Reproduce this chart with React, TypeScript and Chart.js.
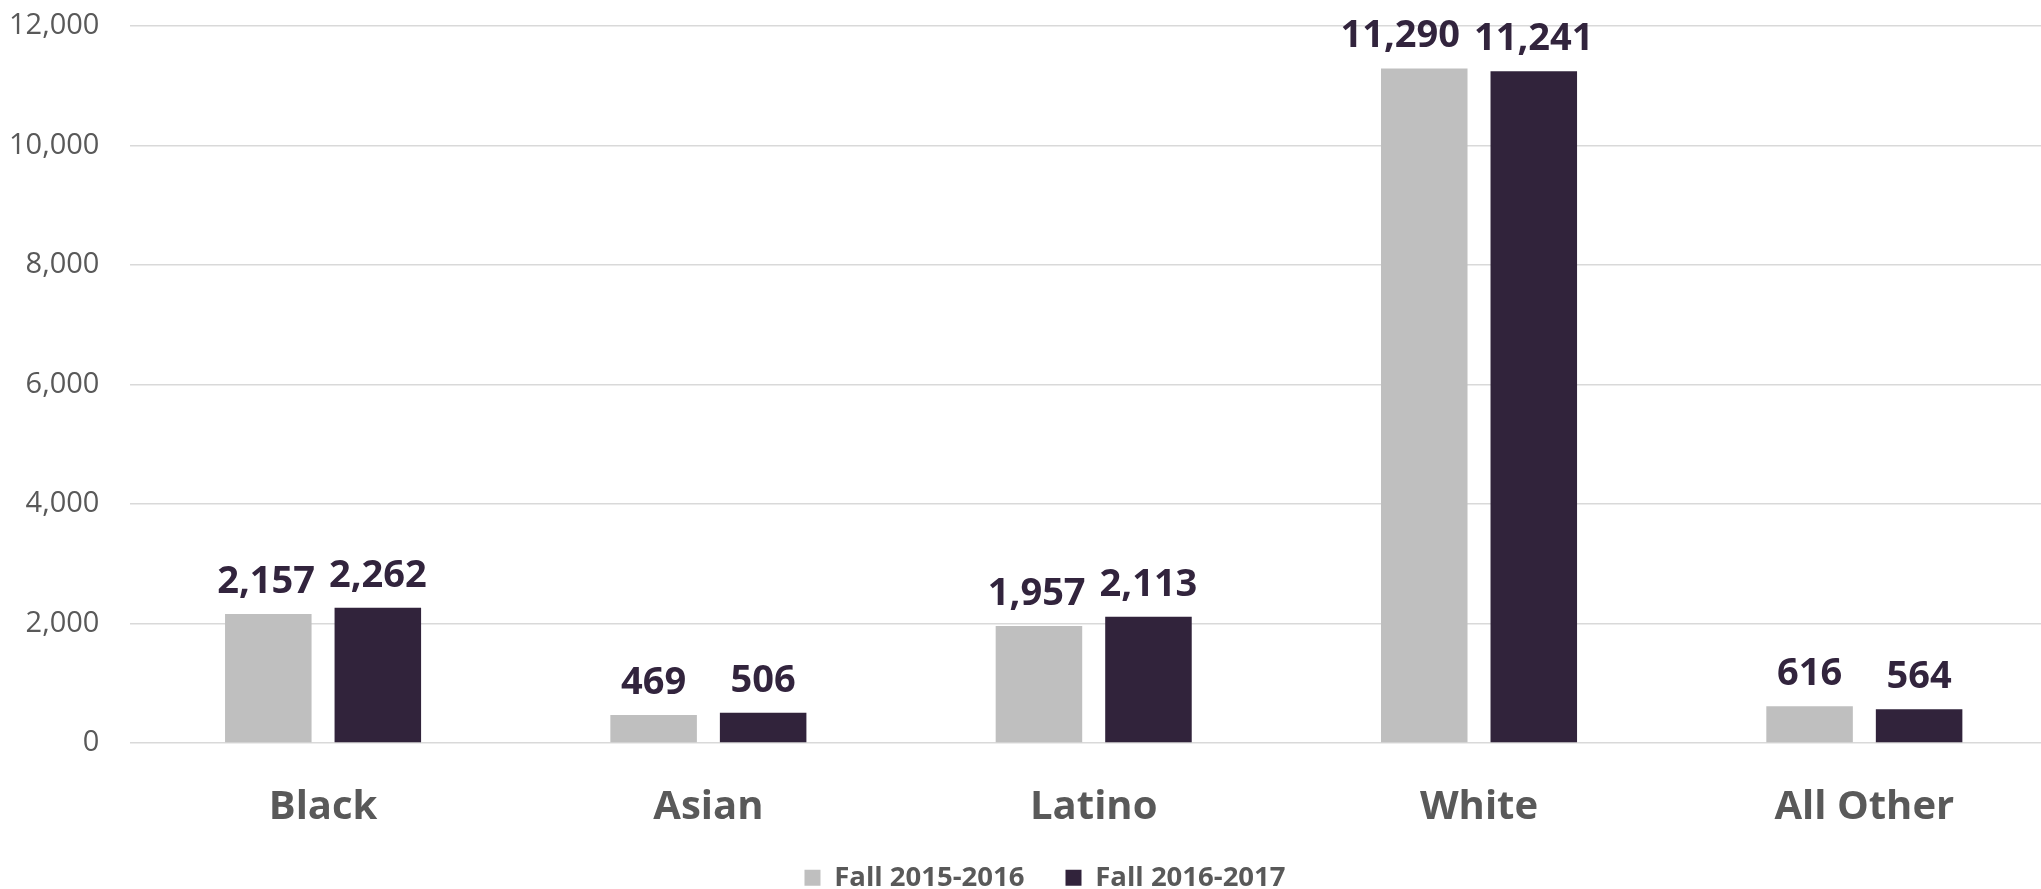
import React, { useEffect, useRef } from "react";
import { Chart, registerables } from "chart.js";

Chart.register(...registerables);

const categories = ["Black", "Asian", "Latino", "White", "All Other"];
const fall2015 = [2157, 469, 1957, 11290, 616];
const fall2016 = [2262, 506, 2113, 11241, 564];
const seriesLabels = ["Fall 2015-2016", "Fall 2016-2017"];
const yMax = 12000;
const yStep = 2000;

const FONT = "'Open Sans', sans-serif";
const GRAY = "#bfbfbf";
const DARK = "#31233b";
const TEXT = "#595959";

const CANVAS_W = 2057;
const CANVAS_H = 889;

const valueLabels = {
  id: "valueLabels",
  afterDatasetsDraw(chart: any) {
    const ctx = chart.ctx;
    ctx.save();
    ctx.font = `bold 38px ${FONT}`;
    ctx.fillStyle = "#32243d";
    ctx.textAlign = "center";
    ctx.textBaseline = "alphabetic";
    const metas = chart.data.datasets.map((_: any, di: number) => chart.getDatasetMeta(di));
    const n = chart.data.labels.length;
    for (let i = 0; i < n; i++) {
      const items = metas.map((meta: any, di: number) => {
        const bar = meta.data[i];
        const text = (chart.data.datasets[di].data[i] as number).toLocaleString("en-US");
        return { text, x: bar.x, y: bar.y - 21, w: ctx.measureText(text).width };
      });
      // avoid overlap: push the first label left if needed
      if (items.length === 2) {
        const a = items[0];
        const b = items[1];
        const overlap = a.x + a.w / 2 + 14 - (b.x - b.w / 2);
        if (overlap > 0) a.x -= overlap;
      }
      items.forEach((it: any) => ctx.fillText(it.text, it.x, it.y));
    }
    ctx.restore();
  },
};

const legendPlacer = {
  id: "legendPlacer",
  afterLayout(chart: any) {
    const lg = chart.legend;
    if (!lg) return;
    lg.left = 0;
    lg.right = 2090;
    lg.top = 823;
    lg.bottom = 900;
  },
};

export default function App() {
  const ref = useRef<HTMLCanvasElement>(null);
  useEffect(() => {
    document.body.style.margin = "0";
    const chart = new Chart(ref.current!, {
      type: "bar",
      data: {
        labels: categories,
        datasets: [
          {
            label: seriesLabels[0],
            data: fall2015,
            backgroundColor: GRAY,
            borderWidth: 0,
            categoryPercentage: 0.5685,
            barPercentage: 0.79,
          },
          {
            label: seriesLabels[1],
            data: fall2016,
            backgroundColor: DARK,
            borderWidth: 0,
            categoryPercentage: 0.5685,
            barPercentage: 0.79,
          },
        ],
      },
      options: {
        responsive: false,
        animation: false,
        devicePixelRatio: 1,
        layout: { padding: { top: 26, right: 0, left: 0, bottom: 0 } },
        plugins: {
          tooltip: { enabled: false },
          legend: {
            position: "bottom",
            maxHeight: 36,
            labels: {
              boxWidth: 16,
              boxHeight: 16,
              padding: 41,
              color: TEXT,
              font: { family: FONT, size: 27.5, weight: "bold" },
            },
          },
        },
        scales: {
          x: {
            grid: { display: false, drawTicks: false },
            border: { display: false },
            ticks: {
              color: TEXT,
              padding: 41,
              font: { family: FONT, size: 40, weight: "bold" },
            },
            afterFit(scale: any) {
              const lh = scale.chart.legend ? scale.chart.legend.height : 0;
              scale.height = CANVAS_H - 743 - lh;
            },
          },
          y: {
            min: 0,
            max: yMax,
            grid: { color: "#d9d9d9", lineWidth: 1.5, drawTicks: false },
            border: { display: false },
            ticks: {
              stepSize: yStep,
              color: TEXT,
              padding: 31,
              font: { family: FONT, size: 29 },
              callback: (v: any) => Number(v).toLocaleString("en-US"),
            },
            afterFit(scale: any) {
              scale.width = 130.4;
              scale.paddingTop = 0;
              scale.paddingBottom = 0;
            },
          },
        },
      },
      plugins: [valueLabels, legendPlacer],
    });
    return () => chart.destroy();
  }, []);
  return (
    <div style={{ width: 2041, height: CANVAS_H, overflow: "hidden", position: "absolute", left: 0, top: 0 }}>
      <canvas ref={ref} width={CANVAS_W} height={CANVAS_H} style={{ display: "block" }} />
    </div>
  );
}
